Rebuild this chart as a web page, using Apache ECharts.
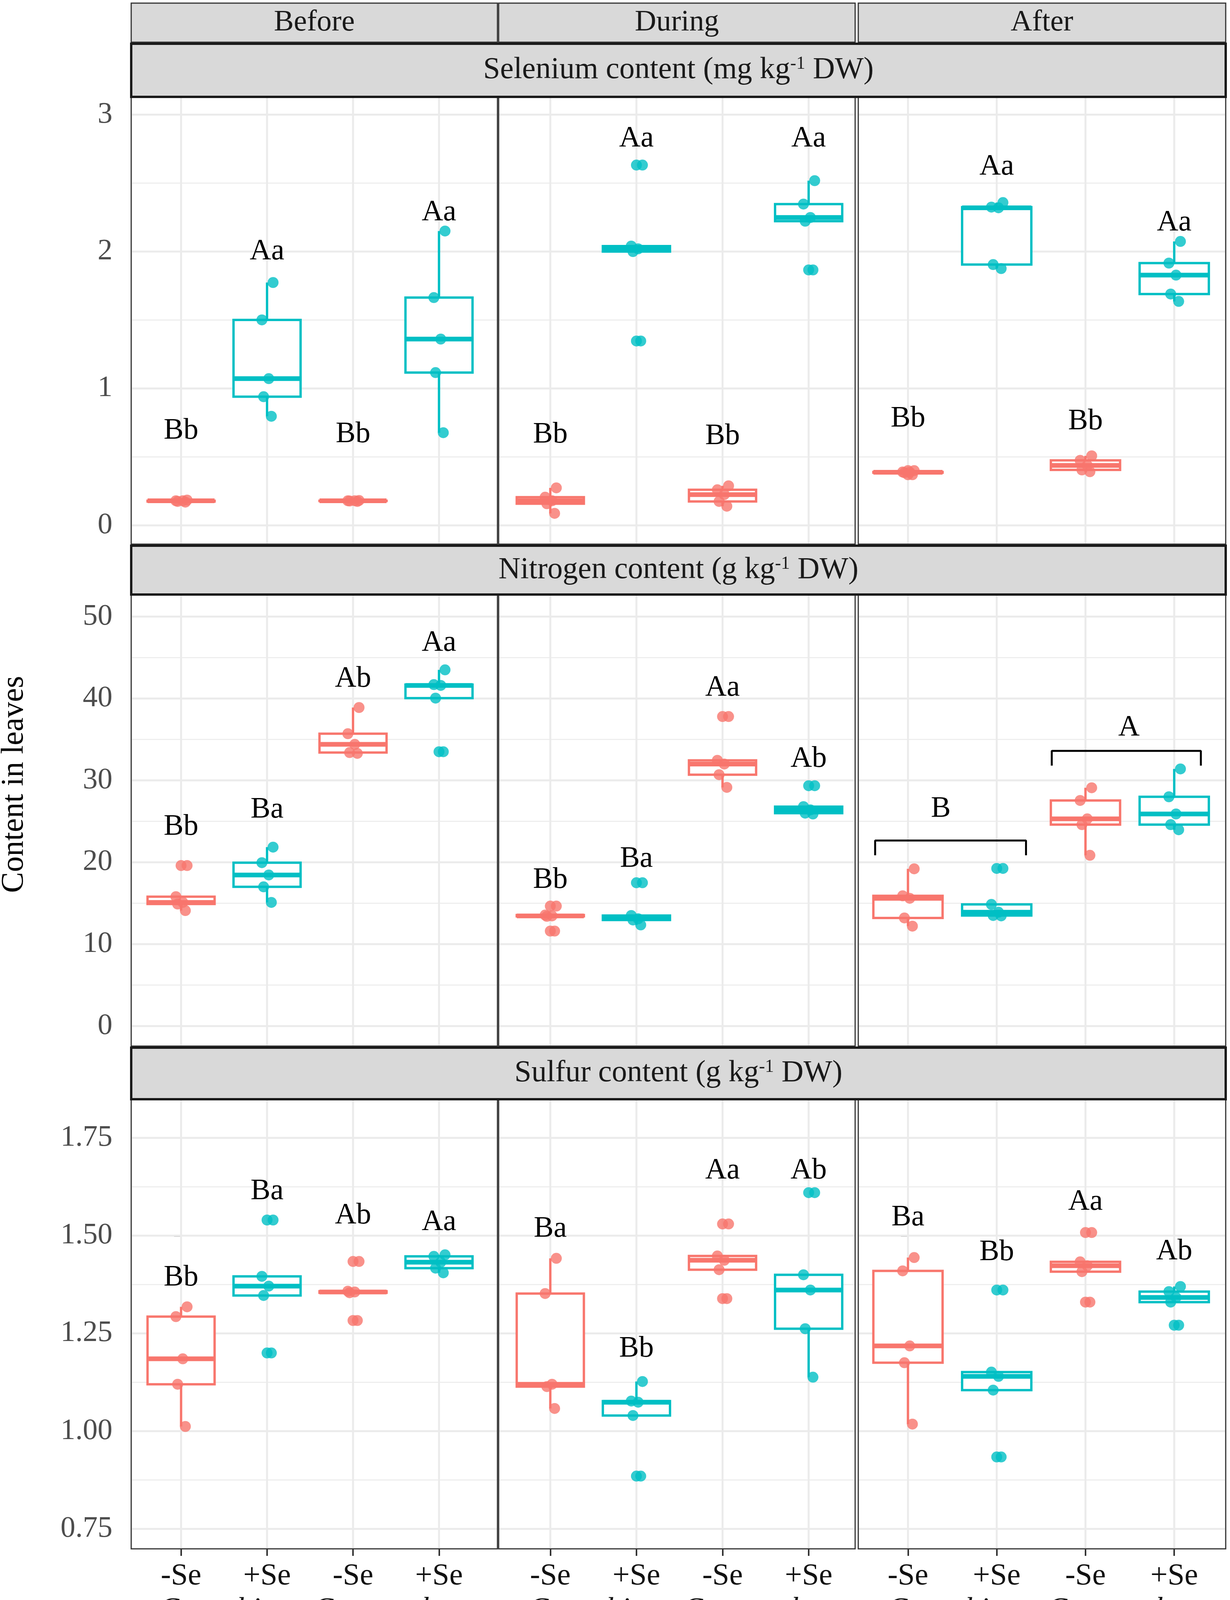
<!DOCTYPE html>
<html>
<head>
<meta charset="utf-8">
<title>Se, N and S content in coffee leaves</title>
<script src="https://cdn.jsdelivr.net/npm/echarts@6.0.0/dist/echarts.min.js"></script>
<style>
    html, body { margin: 0; padding: 0; background: #fff; }
    #chart { width: 3150px; height: 4170px; }
</style>
</head>
<body>
<div id="chart"></div>
<script>
// ---- values (5 leaf samples per group) ----
var periods = ['Before', 'During', 'After'];
var treatments = ['-Se', '+Se', '-Se', '+Se'];
var species = ['C. arabica', 'C. canephora'];

// Selenium content (mg kg-1 DW); groups: arabica -Se, arabica +Se, canephora -Se, canephora +Se
var seBefore = [[0.17, 0.175, 0.18, 0.18, 0.185], [0.797, 0.94, 1.072, 1.501, 1.774], [0.175, 0.178, 0.18, 0.18, 0.182], [0.677, 1.116, 1.361, 1.664, 2.15]];
var seDuring = [[0.088, 0.158, 0.18, 0.206, 0.274], [1.347, 2.0, 2.02, 2.04, 2.632], [0.14, 0.175, 0.225, 0.26, 0.289], [1.866, 2.222, 2.249, 2.347, 2.518]];
var seAfter = [[0.37, 0.385, 0.388, 0.39, 0.40], [1.876, 1.905, 2.32, 2.325, 2.358], [0.392, 0.405, 0.438, 0.475, 0.508], [1.636, 1.69, 1.828, 1.916, 2.074]];

// Nitrogen content (g kg-1 DW)
var nBefore = [[14.1, 14.9, 15.1, 15.8, 19.6], [15.1, 17.0, 18.45, 19.95, 21.85], [33.3, 33.4, 34.4, 35.7, 38.9], [33.5, 40.05, 41.6, 41.7, 43.5]];
var nDuring = [[11.6, 13.4, 13.45, 13.55, 14.65], [12.35, 12.95, 13.1, 13.5, 17.5], [29.15, 30.7, 32.0, 32.45, 37.8], [25.9, 26.0, 26.4, 26.8, 29.35]];
var nAfter = [[12.2, 13.2, 15.6, 15.9, 19.2], [13.45, 13.5, 13.9, 14.85, 19.25], [20.85, 24.6, 25.3, 27.55, 29.1], [23.97, 24.6, 25.9, 28.0, 31.4]];

// Sulfur content (g kg-1 DW)
var sBefore = [[1.012, 1.12, 1.185, 1.293, 1.318], [1.20, 1.347, 1.371, 1.396, 1.54], [1.283, 1.354, 1.356, 1.358, 1.434], [1.405, 1.417, 1.432, 1.447, 1.451]];
var sDuring = [[1.058, 1.114, 1.12, 1.352, 1.442], [0.885, 1.04, 1.074, 1.077, 1.127], [1.339, 1.413, 1.437, 1.448, 1.53], [1.138, 1.262, 1.361, 1.40, 1.61]];
var sAfter = [[1.018, 1.175, 1.218, 1.41, 1.444], [0.934, 1.105, 1.14, 1.151, 1.361], [1.33, 1.408, 1.423, 1.433, 1.508], [1.271, 1.33, 1.342, 1.357, 1.37]];

// letters of significance and the height they stand at
var seLetters = [['Bb', 'Aa', 'Bb', 'Aa'], ['Bb', 'Aa', 'Bb', 'Aa'], ['Bb', 'Aa', 'Bb', 'Aa']];
var seLetterY = [[0.69, 2.0, 0.664, 2.285], [0.661, 2.825, 0.65, 2.825], [0.78, 2.62, 0.76, 2.21]];
var nLetters = [['Bb', 'Ba', 'Ab', 'Aa'], ['Bb', 'Ba', 'Aa', 'Ab'], []];
var nLetterY = [[24.3, 26.4, 42.4, 46.8], [17.8, 20.4, 41.3, 32.6], []];
var sLetters = [['Bb', 'Ba', 'Ab', 'Aa'], ['Ba', 'Bb', 'Aa', 'Ab'], ['Ba', 'Bb', 'Aa', 'Ab']];
var sLetterY = [[1.392, 1.613, 1.551, 1.534], [1.517, 1.211, 1.666, 1.666], [1.546, 1.457, 1.586, 1.459]];

// nitrogen after: species compared by brackets
var nAfterGroups = ['B', 'A'];
var nAfterSpan = [[-0.37, 1.33], [1.62, 3.30]];
var nAfterTop = [22.66, 33.6];
var nAfterFoot = [20.85, 31.8];
var nAfterLabelX = [0.37, 2.49];
var nAfterLabelY = [26.5, 36.45];

// axis ticks
var seTicks = [0, 1, 2, 3];
var seTickLabels = ['0', '1', '2', '3'];
var seMinor = [0.5, 1.5, 2.5];
var nTicks = [0, 10, 20, 30, 40, 50];
var nTickLabels = ['0', '10', '20', '30', '40', '50'];
var nMinor = [5, 15, 25, 35, 45];
var sTicks = [0.75, 1.0, 1.25, 1.5, 1.75];
var sTickLabels = ['0.75', '1.00', '1.25', '1.50', '1.75'];
var sMinor = [0.875, 1.125, 1.375, 1.625];

// ---- layout / style ----
var FONT = "'Liberation Serif', 'Times New Roman', serif";
var COLORS = ['#F8766D', '#00BFC4'];
var COLS = [[336, 1274], [1277, 2190], [2198, 3139]];
var ROWS = [[248, 1393], [1522, 2678], [2814, 3965]];
var ROW_STRIPS = [[112, 248], [1397, 1522], [2682, 2814]];
var X_RANGE = [[-0.58, 3.68], [-0.6, 3.54], [-0.56, 3.58]];
var Y_RANGE = [[-0.137, 3.13], [-2.45, 52.7], [0.699, 1.849]];
var JITTER = [0.05, -0.04, 0.02, -0.06, 0.07];
var BOX_W = 0.78;
var LW = 6;

var rowData = [[seBefore, seDuring, seAfter], [nBefore, nDuring, nAfter], [sBefore, sDuring, sAfter]];
var rowLetters = [seLetters, nLetters, sLetters];
var rowLetterY = [seLetterY, nLetterY, sLetterY];
var rowTicks = [seTicks, nTicks, sTicks];
var rowTickLabels = [seTickLabels, nTickLabels, sTickLabels];
var rowMinor = [seMinor, nMinor, sMinor];
var rowTitles = [
    'Selenium content (mg kg{sup|-1} DW)',
    'Nitrogen content (g kg{sup|-1} DW)',
    'Sulfur content (g kg{sup|-1} DW)'
];

function quantile(s, p) {
    var h = (s.length - 1) * p, lo = Math.floor(h);
    var next = lo + 1 < s.length ? s[lo + 1] : s[lo];
    return s[lo] + (h - lo) * (next - s[lo]);
}

// ggplot style box statistics
function boxStats(vals) {
    var s = vals.slice().sort(function (a, b) { return a - b; });
    var q1 = quantile(s, 0.25), med = quantile(s, 0.5), q3 = quantile(s, 0.75);
    var f = 1.5 * (q3 - q1), eps = 1e-9;
    var inside = s.filter(function (v) { return v >= q1 - f - eps && v <= q3 + f + eps; });
    var out = s.filter(function (v) { return v < q1 - f - eps || v > q3 + f + eps; });
    return { sorted: s, lo: inside[0], hi: inside[inside.length - 1], q1: q1, med: med, q3: q3, out: out };
}

function gridLineRender(params, api) {
    var cs = params.coordSys;
    var p = api.coord([api.value(0), api.value(1)]);
    var w = api.value(2) ? 2.5 : 5;
    var shape = api.value(3)
        ? { x1: p[0], y1: cs.y + 2, x2: p[0], y2: cs.y + cs.height - 2 }
        : { x1: cs.x + 2, y1: p[1], x2: cs.x + cs.width - 2, y2: p[1] };
    return { type: 'line', shape: shape, style: { stroke: '#EBEBEB', lineWidth: w } };
}

function boxRender(params, api) {
    var x = api.value(0), color = COLORS[api.value(6)];
    var lo = api.coord([x, api.value(1)]), q1 = api.coord([x, api.value(2)]);
    var q3 = api.coord([x, api.value(4)]), hi = api.coord([x, api.value(5)]);
    var tl = api.coord([x - BOX_W / 2, api.value(4)]), br = api.coord([x + BOX_W / 2, api.value(2)]);
    var ml = api.coord([x - BOX_W / 2, api.value(3)]), mr = api.coord([x + BOX_W / 2, api.value(3)]);
    return {
        type: 'group',
        children: [
            { type: 'line', shape: { x1: lo[0], y1: lo[1], x2: q1[0], y2: q1[1] }, style: { stroke: color, lineWidth: LW } },
            { type: 'line', shape: { x1: q3[0], y1: q3[1], x2: hi[0], y2: hi[1] }, style: { stroke: color, lineWidth: LW } },
            { type: 'rect', shape: { x: tl[0], y: tl[1], width: br[0] - tl[0], height: br[1] - tl[1] }, style: { fill: '#fff', stroke: color, lineWidth: LW } },
            { type: 'line', shape: { x1: ml[0], y1: ml[1], x2: mr[0], y2: mr[1] }, style: { stroke: color, lineWidth: LW * 2 } }
        ]
    };
}

function textRender(texts) {
    return function (params, api) {
        var p = api.coord([api.value(0), api.value(1)]);
        return {
            type: 'text',
            style: {
                text: texts[params.dataIndex], x: p[0], y: p[1],
                textAlign: 'center', textVerticalAlign: 'middle', align: 'center', verticalAlign: 'middle',
                fontSize: 76, fontFamily: FONT, fill: '#000'
            }
        };
    };
}

var grids = [], xAxes = [], yAxes = [], series = [], graphics = [];

for (var r = 0; r < 3; r++) {
    for (var c = 0; c < 3; c++) {
        var g = grids.length;
        var groups = rowData[r][c];
        grids.push({
            left: COLS[c][0], top: ROWS[r][0],
            width: COLS[c][1] - COLS[c][0], height: ROWS[r][1] - ROWS[r][0],
            show: true, backgroundColor: '#fff', borderColor: '#333', borderWidth: 3
        });

        var xi = xAxes.length;
        xAxes.push({
            gridIndex: g, type: 'value', min: X_RANGE[c][0], max: X_RANGE[c][1],
            axisLine: { show: false }, splitLine: { show: false },
            axisTick: { show: r === 2, customValues: [0, 1, 2, 3], length: 18, lineStyle: { color: '#333', width: 4 } },
            axisLabel: {
                show: r === 2, customValues: [0, 1, 2, 3], margin: 32,
                formatter: function (v) { return treatments[Math.round(v)]; },
                fontSize: 78, fontFamily: FONT, color: '#111'
            }
        });
        if (r === 2) {
            xAxes.push({
                gridIndex: g, type: 'value', position: 'bottom', offset: 88,
                min: X_RANGE[c][0], max: X_RANGE[c][1],
                axisLine: { show: false }, splitLine: { show: false }, axisTick: { show: false },
                axisLabel: {
                    customValues: [0.5, 2.5], margin: 30,
                    formatter: function (v) { return v < 1 ? species[0] : species[1]; },
                    fontSize: 78, fontFamily: FONT, fontStyle: 'italic', color: '#111'
                }
            });
        }

        (function (ticks, labels) {
            yAxes.push({
                gridIndex: g, type: 'value', min: Y_RANGE[r][0], max: Y_RANGE[r][1],
                axisLine: { show: false }, splitLine: { show: false },
                axisTick: { show: true, customValues: ticks, length: 18, lineStyle: { color: '#333', width: 4 } },
                axisLabel: {
                    show: c === 0, customValues: ticks, margin: 48,
                    formatter: function (v) {
                        for (var k = 0; k < ticks.length; k++) if (Math.abs(ticks[k] - v) < 1e-9) return labels[k];
                        return '';
                    },
                    fontSize: 76, fontFamily: FONT, color: '#4D4D4D'
                }
            });
        })(rowTicks[r], rowTickLabels[r]);

        // panel grid lines: [x, y, minor, vertical]
        var lines = [];
        rowTicks[r].forEach(function (v) { lines.push([X_RANGE[c][0], v, 0, 0]); });
        rowMinor[r].forEach(function (v) { lines.push([X_RANGE[c][0], v, 1, 0]); });
        [0, 1, 2, 3].forEach(function (v) { lines.push([v, Y_RANGE[r][0], 0, 1]); });
        series.push({
            type: 'custom', xAxisIndex: xi, yAxisIndex: g, silent: true, z: 1,
            renderItem: gridLineRender, data: lines
        });

        var boxes = [], points = [];
        groups.forEach(function (vals, i) {
            var st = boxStats(vals);
            boxes.push([i, st.lo, st.q1, st.med, st.q3, st.hi, i % 2]);
            st.out.forEach(function (v) {
                points.push({ value: [i, v], itemStyle: { color: COLORS[i % 2] } });
            });
            st.sorted.forEach(function (v, k) {
                points.push({ value: [i + JITTER[k], v], itemStyle: { color: COLORS[i % 2] } });
            });
        });
        series.push({
            type: 'custom', xAxisIndex: xi, yAxisIndex: g, silent: true, z: 3,
            renderItem: boxRender, data: boxes
        });
        series.push({
            type: 'scatter', xAxisIndex: xi, yAxisIndex: g, silent: true, z: 4,
            symbol: 'circle', symbolSize: 28, data: points
        });

        var letters = rowLetters[r][c];
        if (letters.length) {
            series.push({
                type: 'custom', xAxisIndex: xi, yAxisIndex: g, silent: true, z: 5,
                renderItem: textRender(letters),
                data: letters.map(function (t, i) { return [i, rowLetterY[r][c][i]]; })
            });
        }

        if (r === 1 && c === 2) {
            nAfterGroups.forEach(function (t, k) {
                var s = nAfterSpan[k];
                series.push({
                    type: 'line', xAxisIndex: xi, yAxisIndex: g, silent: true, z: 5,
                    symbol: 'none', lineStyle: { color: '#000', width: 5 },
                    data: [[s[0], nAfterFoot[k]], [s[0], nAfterTop[k]], [s[1], nAfterTop[k]], [s[1], nAfterFoot[k]]]
                });
            });
            series.push({
                type: 'custom', xAxisIndex: xi, yAxisIndex: g, silent: true, z: 5,
                renderItem: textRender(nAfterGroups),
                data: nAfterGroups.map(function (t, k) { return [nAfterLabelX[k], nAfterLabelY[k]]; })
            });
        }
    }
}

// facet strips
periods.forEach(function (p, c) {
    graphics.push({
        type: 'rect', z: 10,
        shape: { x: COLS[c][0], y: 8, width: COLS[c][1] - COLS[c][0], height: 100 },
        style: { fill: '#D9D9D9', stroke: '#333', lineWidth: 3 }
    });
    graphics.push({
        type: 'text', z: 11,
        style: {
            text: p, x: (COLS[c][0] + COLS[c][1]) / 2, y: 58,
            textAlign: 'center', textVerticalAlign: 'middle', align: 'center', verticalAlign: 'middle',
            fontSize: 76, fontFamily: FONT, fill: '#1A1A1A'
        }
    });
});
rowTitles.forEach(function (t, r) {
    var top = ROW_STRIPS[r][0], bottom = ROW_STRIPS[r][1];
    graphics.push({
        type: 'rect', z: 10,
        shape: { x: COLS[0][0], y: top, width: COLS[2][1] - COLS[0][0], height: bottom - top },
        style: { fill: '#D9D9D9', stroke: '#1A1A1A', lineWidth: 6 }
    });
    graphics.push({
        type: 'text', z: 11,
        style: {
            text: t, x: (COLS[0][0] + COLS[2][1]) / 2, y: (top + bottom) / 2,
            textAlign: 'center', textVerticalAlign: 'middle', align: 'center', verticalAlign: 'middle',
            fontSize: 78, fontFamily: FONT, fill: '#1A1A1A',
            rich: { sup: { fontSize: 46, fontFamily: FONT, fill: '#1A1A1A', verticalAlign: 'top' } }
        }
    });
});
graphics.push({
    type: 'text', x: 37, y: 2008, rotation: Math.PI / 2, z: 11,
    style: {
        text: 'Content in leaves',
        textAlign: 'center', textVerticalAlign: 'middle', align: 'center', verticalAlign: 'middle',
        fontSize: 80, fontFamily: FONT, fill: '#000'
    }
});

var chart = echarts.init(document.getElementById('chart'));
chart.setOption({
    animation: false,
    backgroundColor: '#fff',
    textStyle: { fontFamily: FONT },
    grid: grids,
    xAxis: xAxes,
    yAxis: yAxes,
    series: series,
    graphic: graphics
});

window.onresize = function () {
    chart.resize();
};
</script>
</body>
</html>
